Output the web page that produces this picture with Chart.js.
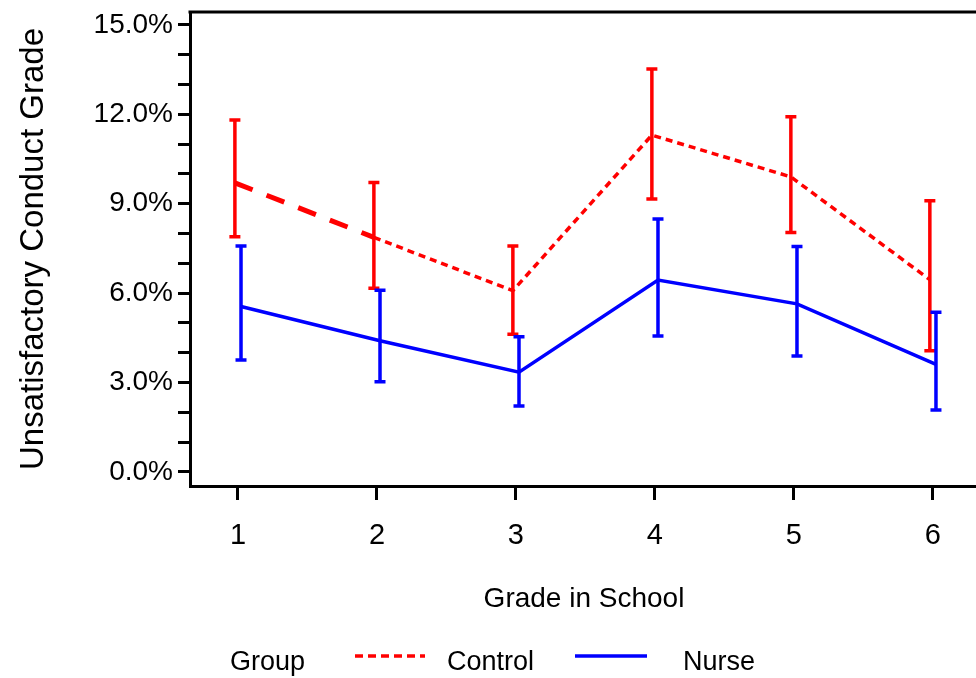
<!DOCTYPE html>
<html>
<head>
<meta charset="utf-8">
<script src="https://cdn.jsdelivr.net/npm/chart.js"></script>
<style>
  html, body { margin: 0; padding: 0; background: #fff; }
  #wrap { width: 976px; height: 678px; position: relative; }
</style>
</head>
<body>
<div id="wrap"><canvas id="chart" width="976" height="678"></canvas></div>
<script>
// grade in school on x, % unsatisfactory conduct on y
const grades = [1, 2, 3, 4, 5, 6];

const controlMean = [9.70, 7.87, 6.08, 11.30, 9.90, 6.45];
const controlLow  = [7.89, 6.16, 4.62, 9.16, 8.03, 4.07];
const controlHigh = [11.81, 9.71, 7.58, 13.52, 11.92, 9.10];

const nurseMean = [5.55, 4.40, 3.35, 6.44, 5.64, 3.61];
const nurseLow  = [3.76, 3.03, 2.21, 4.56, 3.89, 2.08];
const nurseHigh = [7.58, 6.10, 4.54, 8.49, 7.56, 5.36];

const yTicks = [0, 1, 2, 3, 4, 5, 6, 7, 8, 9, 10, 11, 12, 13, 14, 15];

const RED = '#ff0000';
const BLUE = '#0000ff';
const FONT = '"Liberation Sans", Arial, sans-serif';

// small side shift so the two bars at a grade do not overlap
const SHIFT = 0.022;

const pts = (means, shift) => grades.map((g, i) => ({ x: g + shift, y: means[i] }));

// ---------- error bars ----------
const errorBars = {
  id: 'errorBars',
  afterDatasetsDraw(chart) {
    const { ctx, scales: { x, y } } = chart;
    chart.data.datasets.forEach(ds => {
      if (!ds.low) return;
      ctx.save();
      ctx.strokeStyle = ds.barColor;
      ctx.lineWidth = 3.5;
      ds.data.forEach((p, i) => {
        const px = x.getPixelForValue(p.x);
        const top = y.getPixelForValue(ds.high[i]);
        const bot = y.getPixelForValue(ds.low[i]);
        ctx.beginPath();
        ctx.moveTo(px, top);
        ctx.lineTo(px, bot);
        ctx.moveTo(px - 5.5, top);
        ctx.lineTo(px + 5.5, top);
        ctx.moveTo(px - 5.5, bot);
        ctx.lineTo(px + 5.5, bot);
        ctx.stroke();
      });
      ctx.restore();
    });
  }
};

// ---------- frame top, axis titles, legend ----------
const decor = {
  id: 'decor',
  afterDraw(chart) {
    const { ctx, chartArea } = chart;
    ctx.save();
    ctx.strokeStyle = '#000';
    ctx.lineWidth = 3;
    ctx.beginPath();
    ctx.moveTo(chartArea.left - 1.5, chartArea.top);
    ctx.lineTo(chart.width, chartArea.top);
    ctx.stroke();

    ctx.fillStyle = '#000';
    // y title
    ctx.save();
    ctx.translate(43, 249);
    ctx.rotate(-Math.PI / 2);
    ctx.font = '33px ' + FONT;
    ctx.textAlign = 'center';
    ctx.textBaseline = 'alphabetic';
    ctx.fillText('Unsatisfactory Conduct Grade', 0, 0);
    ctx.restore();

    // x title
    ctx.font = '28px ' + FONT;
    ctx.textAlign = 'center';
    ctx.textBaseline = 'alphabetic';
    ctx.fillText('Grade in School', 584, 607);

    // legend
    ctx.font = '27px ' + FONT;
    ctx.textAlign = 'left';
    ctx.fillText('Group', 230, 670);
    ctx.fillText('Control', 447, 670);
    ctx.fillText('Nurse', 683, 670);

    ctx.lineWidth = 3.5;
    ctx.strokeStyle = RED;
    ctx.setLineDash([8, 5]);
    ctx.beginPath();
    ctx.moveTo(355, 656);
    ctx.lineTo(425, 656);
    ctx.stroke();

    ctx.setLineDash([]);
    ctx.strokeStyle = BLUE;
    ctx.beginPath();
    ctx.moveTo(575, 656);
    ctx.lineTo(647, 656);
    ctx.stroke();
    ctx.restore();
  }
};

const ctx = document.getElementById('chart').getContext('2d');

new Chart(ctx, {
  type: 'line',
  data: {
    datasets: [
      {
        label: 'Control',
        data: pts(controlMean, -SHIFT),
        low: controlLow,
        high: controlHigh,
        barColor: RED,
        borderColor: RED,
        borderWidth: 3.5,
        borderDash: [7, 5],
        pointRadius: 0,
        tension: 0,
        fill: false,
        // first stretch (grade 1 -> 2) is drawn heavier with long dashes
        segment: {
          borderDash: c => c.p0DataIndex === 0 ? [19, 15] : [7, 5],
          borderWidth: c => c.p0DataIndex === 0 ? 5 : 3.5
        }
      },
      {
        label: 'Nurse',
        data: pts(nurseMean, SHIFT),
        low: nurseLow,
        high: nurseHigh,
        barColor: BLUE,
        borderColor: BLUE,
        borderWidth: 3.5,
        pointRadius: 0,
        tension: 0,
        fill: false
      }
    ]
  },
  options: {
    responsive: false,
    animation: false,
    layout: { padding: { top: 12, right: 0, bottom: 0, left: 0 } },
    plugins: {
      legend: { display: false },
      tooltip: { enabled: false }
    },
    scales: {
      x: {
        type: 'linear',
        min: 0.655,
        max: 6.31,
        afterBuildTicks: s => { s.ticks = grades.map(v => ({ value: v })); },
        afterFit: s => {
          s.height = 192;
          s.paddingLeft = 0;
          s.paddingRight = 0;
        },
        border: { display: true, color: '#000', width: 3 },
        grid: {
          drawOnChartArea: false,
          drawTicks: true,
          tickLength: 14,
          tickWidth: 3,
          color: '#000'
        },
        ticks: {
          color: '#000',
          padding: 19,
          autoSkip: false,
          maxRotation: 0,
          font: { family: FONT, size: 29 },
          callback: v => String(v)
        }
      },
      y: {
        min: -0.47,
        max: 15.43,
        afterBuildTicks: s => { s.ticks = yTicks.map(v => ({ value: v })); },
        afterFit: s => {
          s.width = 190;
          s.paddingTop = 0;
          s.paddingBottom = 0;
        },
        border: { display: true, color: '#000', width: 3 },
        grid: {
          drawOnChartArea: false,
          drawTicks: true,
          tickLength: 12,
          tickWidth: 3,
          color: '#000'
        },
        ticks: {
          color: '#000',
          padding: 5,
          autoSkip: false,
          font: { family: FONT, size: 28 },
          callback: v => (v % 3 === 0 ? v.toFixed(1) + '%' : '')
        }
      }
    }
  },
  plugins: [errorBars, decor]
});
</script>
</body>
</html>
